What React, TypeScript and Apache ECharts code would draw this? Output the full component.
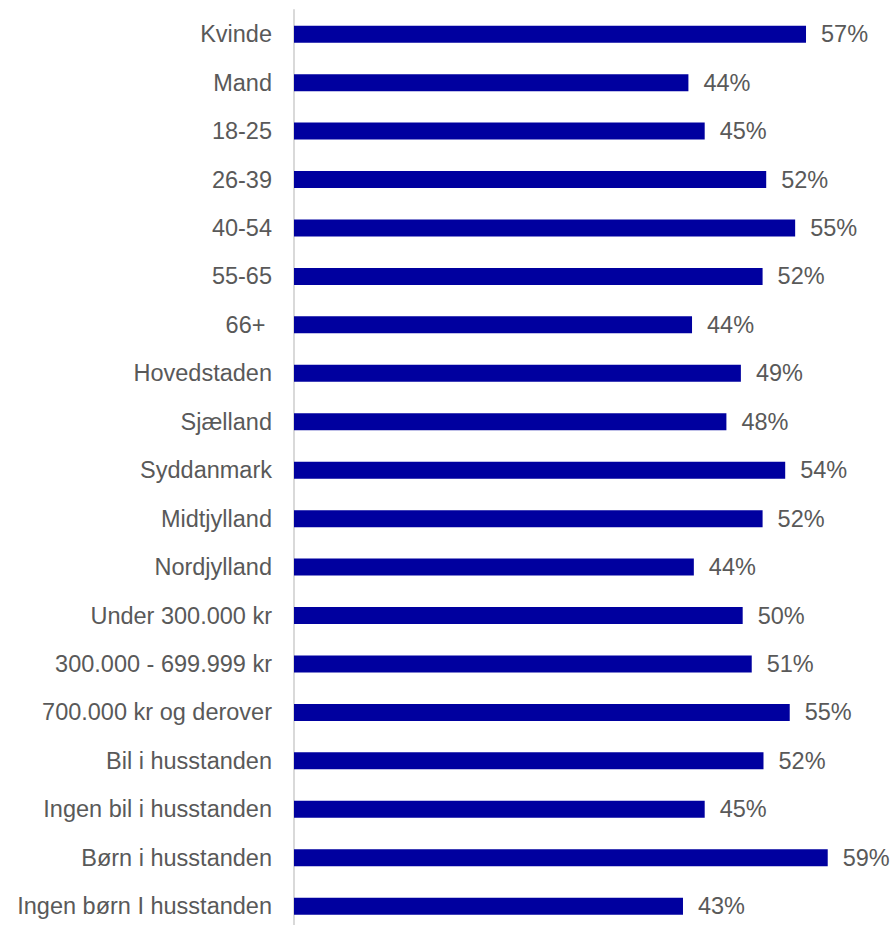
import React, { useEffect, useRef } from "react";
import * as echarts from "echarts";

const categories = [
  "Kvinde",
  "Mand",
  "18-25",
  "26-39",
  "40-54",
  "55-65",
  "66+ ",
  "Hovedstaden",
  "Sjælland",
  "Syddanmark",
  "Midtjylland",
  "Nordjylland",
  "Under 300.000 kr",
  "300.000 - 699.999 kr",
  "700.000 kr og derover",
  "Bil i husstanden",
  "Ingen bil i husstanden",
  "Børn i husstanden",
  "Ingen børn I husstanden",
];

const values = [
  56.6, 43.6, 45.4, 52.2, 55.4, 51.8, 44.0, 49.4, 47.8, 54.3, 51.8, 44.2,
  49.6, 50.6, 54.8, 51.9, 45.4, 59.0, 43.0,
];

const App: React.FC = () => {
  const ref = useRef<HTMLDivElement>(null);

  useEffect(() => {
    if (!ref.current) return;
    const chart = echarts.init(ref.current, undefined, { renderer: "svg" });
    const font = "Arial, 'Liberation Sans', Helvetica, sans-serif";
    chart.setOption({
      animation: false,
      backgroundColor: "#ffffff",
      grid: {
        left: 294,
        top: 10,
        width: 588,
        height: 920.4,
        containLabel: false,
        outerBoundsMode: "none",
      },
      xAxis: {
        type: "value",
        min: 0,
        max: 65,
        show: false,
        splitLine: { show: false },
      },
      yAxis: {
        type: "category",
        data: categories,
        inverse: true,
        axisLine: { show: true, lineStyle: { color: "#d9d9d9", width: 2 } },
        axisTick: { show: false },
        axisLabel: {
          color: "#595959",
          fontSize: 23.5,
          fontFamily: font,
          margin: 22,
        },
      },
      series: [
        {
          type: "bar",
          data: values,
          barWidth: 17,
          itemStyle: { color: "#00009f" },
          label: {
            show: true,
            position: "right",
            distance: 15,
            color: "#595959",
            fontSize: 23.5,
            fontFamily: font,
            formatter: (p: any) => Math.round(p.value) + "%",
          },
        },
      ],
    });
    return () => chart.dispose();
  }, []);

  return (
    <div
      ref={ref}
      style={{ position: "absolute", left: 0, top: 0, width: 896, height: 925 }}
    />
  );
};

export default App;
